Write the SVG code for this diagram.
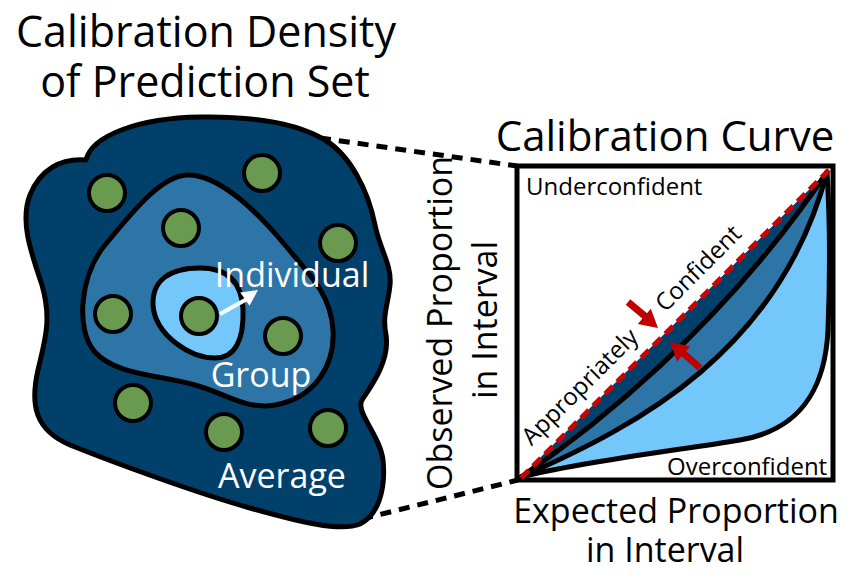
<svg xmlns="http://www.w3.org/2000/svg" width="844" height="573" viewBox="0 0 844 573">
  <style>
    .lbl { font-family: "Open Sans", "Liberation Sans", sans-serif; fill: #000; }
    .wlbl { font-family: "Open Sans", "Liberation Sans", sans-serif; fill: #fff; font-size: 34px; }
    .edge { stroke: #000; stroke-width: 5; stroke-linejoin: round; stroke-linecap: round; }
    .dark { fill: #02406c; }
    .mid { fill: #2e75a7; }
    .light { fill: #74c7fb; }
    .dot { fill: #6a9a4f; stroke: #000; stroke-width: 4; }
    .dash { fill: none; stroke: #000; stroke-width: 5; stroke-dasharray: 11 8; }
    .curve { fill: none; stroke: #000; stroke-width: 5; stroke-linecap: round; }
    .red { fill: #c00000; }
  </style>
  <rect width="844" height="573" fill="#fff"/>

  <!-- titles -->
  <text class="lbl" x="206" y="47" font-size="43" text-anchor="middle">Calibration Density</text>
  <text class="lbl" x="205" y="97" font-size="43" text-anchor="middle">of Prediction Set</text>
  <text class="lbl" x="665" y="151" font-size="42" text-anchor="middle">Calibration Curve</text>

  <!-- zoom connectors -->
  <g id="connectors">
    <line class="dash" x1="320" y1="138" x2="517" y2="166"/>
    <line class="dash" x1="362" y1="519" x2="518" y2="480"/>
  </g>

  <!-- density blob: average / group / individual regions -->
  <g id="average">
    <path class="edge dark" d="M86,160 C92,135 140,118 200,117 C260,116 300,125 325,140 C350,155 368,190 375,225 C380,250 392,265 390,285 C388,305 382,315 386,335 C390,360 372,385 362,400 C355,412 380,435 383,460 C386,490 378,515 360,524 C340,532 300,522 250,508 C200,494 120,465 70,445 C35,430 30,405 38,370 C45,340 52,320 42,285 C30,250 20,220 30,195 C40,170 60,158 86,160 Z"/>
    <text class="wlbl" x="282" y="488" text-anchor="middle">Average</text>
  </g>
  <g id="group">
    <path class="edge mid" d="M187,175 C160,176 130,215 105,245 C80,275 75,330 95,352 C115,375 160,375 195,385 C225,393 245,410 275,405 C315,398 335,365 333,330 C331,295 310,275 285,245 C260,215 220,174 187,175 Z"/>
    <text class="wlbl" x="261" y="387" text-anchor="middle">Group</text>
  </g>
  <g id="individual">
    <path class="edge light" d="M200,268 C230,268 242,285 243,310 C244,340 235,358 215,358 C190,358 155,335 153,305 C152,280 170,268 200,268 Z"/>
  </g>

  <!-- samples -->
  <g id="samples">
    <circle class="dot" cx="107" cy="193" r="18"/>
    <circle class="dot" cx="262" cy="173" r="18"/>
    <circle class="dot" cx="181" cy="228" r="18"/>
    <circle class="dot" cx="338" cy="243" r="18"/>
    <circle class="dot" cx="113" cy="314" r="18"/>
    <circle class="dot" cx="199" cy="316" r="18"/>
    <circle class="dot" cx="283" cy="336" r="18"/>
    <circle class="dot" cx="133" cy="403" r="18"/>
    <circle class="dot" cx="224" cy="432" r="18"/>
    <circle class="dot" cx="328" cy="428" r="18"/>
  </g>

  <g id="individual-label">
    <line x1="220" y1="314" x2="247" y2="299" stroke="#fff" stroke-width="4"/>
    <polygon fill="#fff" points="258,290 249.5,305.7 240.3,292.5"/>
    <text class="wlbl" x="292" y="287" text-anchor="middle">Individual</text>
  </g>

  <!-- calibration curve panel -->
  <g id="calibration-plot">
    <rect x="517" y="166" width="316" height="314" fill="#fff" stroke="#000" stroke-width="5"/>
    <path class="light" d="M521,477 C580,462 680,450 740,440 C800,430 825,390 828,330 C830,280 830,220 827,172 Z"/>
    <path class="mid" d="M521,477 C640,425 780,350 827,172 Z"/>
    <path class="dark" d="M521,477 C590,430 720,330 827,172 Z"/>
    <path class="curve" d="M521,477 C580,462 680,450 740,440 C800,430 825,390 828,330 C830,280 830,220 827,172"/>
    <path class="curve" d="M521,477 C640,425 780,350 827,172"/>
    <path class="curve" d="M521,477 C590,430 720,330 827,172"/>
    <line x1="521" y1="478" x2="829" y2="170" stroke="#d00000" stroke-width="5" stroke-dasharray="11 6"/>

    <text class="lbl" x="526" y="195" font-size="24">Underconfident</text>
    <text class="lbl" x="667" y="475" font-size="24">Overconfident</text>
    <text class="lbl" font-size="24" transform="translate(521,477) rotate(-45)"><tspan x="29" y="-14">Appropriately</tspan><tspan x="218" y="-14">Confident</tspan></text>

    <!-- red pointers -->
    <line x1="628" y1="302" x2="646" y2="317" stroke="#c00000" stroke-width="7"/>
    <polygon class="red" points="658,328 637.8,323.9 650.8,308.7"/>
    <line x1="700" y1="368" x2="682" y2="352" stroke="#c00000" stroke-width="7"/>
    <polygon class="red" points="670,342 690.1,346.2 677.1,361.4"/>
  </g>

  <!-- axis titles -->
  <g id="y-axis">
    <text class="lbl" font-size="34" text-anchor="middle" transform="translate(452,323) rotate(-90)">Observed Proportion</text>
    <text class="lbl" font-size="34" text-anchor="middle" transform="translate(497,320) rotate(-90)">in Interval</text>
  </g>
  <g id="x-axis">
    <text class="lbl" x="676" y="523" font-size="34" text-anchor="middle">Expected Proportion</text>
    <text class="lbl" x="665" y="562" font-size="34" text-anchor="middle">in Interval</text>
  </g>
</svg>
